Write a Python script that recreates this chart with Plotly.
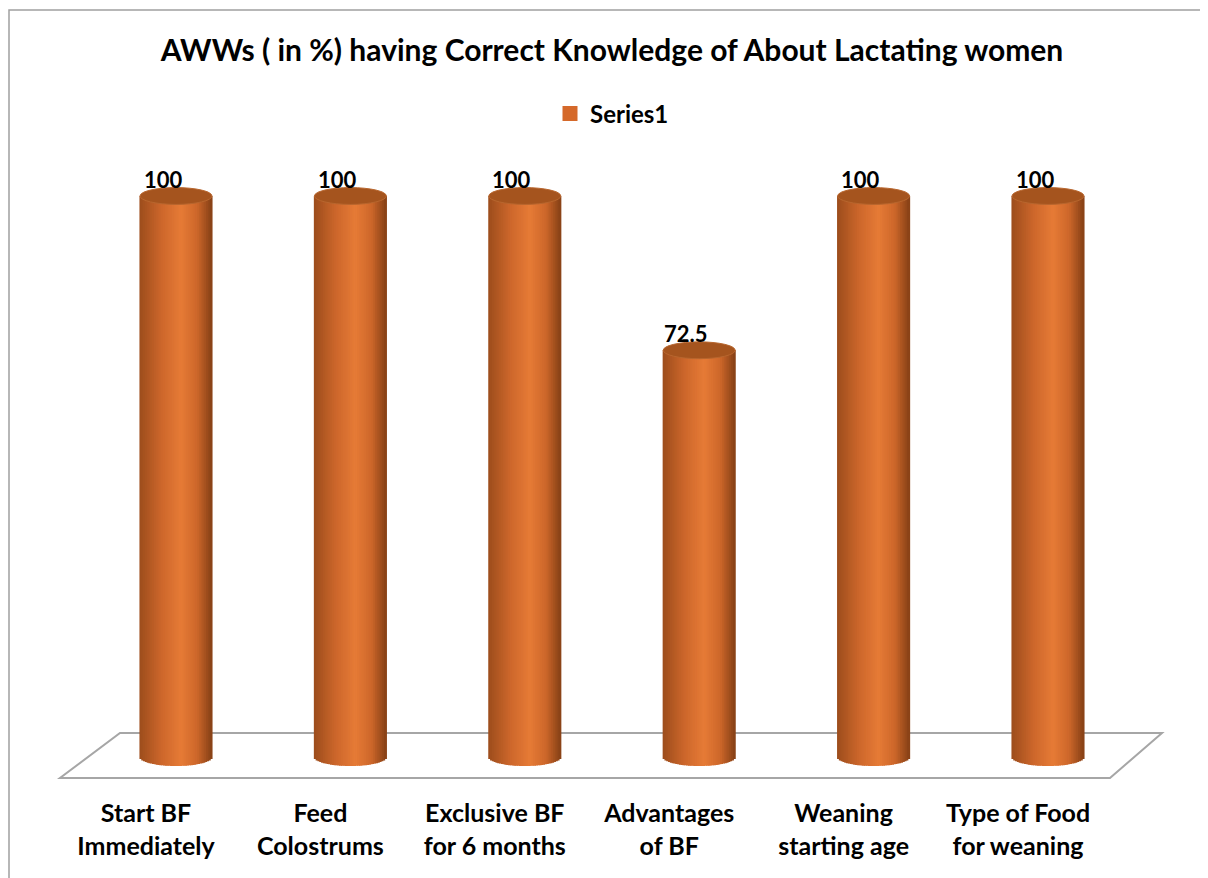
import numpy as np
import plotly.graph_objects as go

# ---- data ----
categories = ["Start BF<br>Immediately", "Feed<br>Colostrums", "Exclusive BF<br>for 6 months",
              "Advantages<br>of BF", "Weaning<br>starting age", "Type of Food<br>for weaning"]
values = [100, 100, 100, 72.5, 100, 100]
labels = ["100", "100", "100", "72.5", "100", "100"]
series_name = "Series1"
title = "AWWs ( in %) having Correct Knowledge of About Lactating women"

FONT = "Lato"
W, H = 1208, 878
OFF = 8  # page body margin
xs = list(range(len(categories)))

# pixel mapping helpers for layout
px_per_x = 174.4
x0_px = 176 - OFF
x_range = [-x0_px / px_per_x, (W - x0_px) / px_per_x]
px_per_y = 5.61
y_zero_px = 757 - OFF
plot_bottom_px = 790 - OFF
y_range = [(y_zero_px - plot_bottom_px) / px_per_y, y_zero_px / px_per_y]

bar_w = 0.413
label_shift = 30 / px_per_x   # perspective shift of category labels
N = 40
hb = 1.6   # bottom ellipse half height (y units)
ht = 1.5   # lid half height

# colour profile across the cylinder
prof_u = [-1.0, -0.4, 0.15, 0.6, 1.0]
prof_c = [(156, 77, 28), (204, 102, 43), (230, 123, 54), (205, 103, 42), (135, 65, 22)]

def col_at(u):
    c = [np.interp(u, prof_u, [p[i] for p in prof_c]) for i in range(3)]
    return "rgb(%d,%d,%d)" % tuple(int(round(v)) for v in c)

fig = go.Figure()
sw = bar_w / N
for k in range(N):
    u = -1 + (k + 0.5) * 2 / N
    base_k = -hb * np.sqrt(max(0.0, 1 - u * u))
    fig.add_trace(go.Bar(
        x=xs, y=[v - base_k for v in values], base=[base_k] * len(values),
        width=sw * 1.6, offset=-bar_w / 2 + k * sw - sw * 0.3,
        marker=dict(color=col_at(u), line=dict(width=0)),
        showlegend=False, hoverinfo="skip"))

# legend entry
fig.add_trace(go.Scatter(x=[None], y=[None], name=series_name, mode="markers",
                         marker=dict(color="#d5692a", symbol="square", size=15),
                         showlegend=True))

shapes = []
# floor
shapes.append(dict(type="path", xref="x", yref="y", layer="below",
                   path="M %f,%f L %f,%f L %f,%f L %f,%f Z" % (
                       (120 - 176) / px_per_x, (757 - 733) / px_per_y,
                       (1162 - 176) / px_per_x, (757 - 733) / px_per_y,
                       (1110 - 176) / px_per_x, (757 - 778) / px_per_y,
                       (60 - 176) / px_per_x, (757 - 778) / px_per_y),
                   line=dict(color="#a6a6a6", width=2)))
# lids
for x, v in zip(xs, values):
    shapes.append(dict(type="circle", xref="x", yref="y", layer="above",
                       x0=x - bar_w / 2, x1=x + bar_w / 2, y0=v - ht, y1=v + ht,
                       fillcolor="#a5541e", line=dict(color="#b8662e", width=1)))
# outer border
shapes.append(dict(type="rect", xref="paper", yref="paper",
                   x0=1 / W, x1=1.02, y0=-0.02, y1=1 - 2 / H,
                   line=dict(color="#a0a0a0", width=1.5)))

annotations = []
for x, v, t in zip(xs, values, labels):
    annotations.append(dict(x=x, y=v, xref="x", yref="y", text="<b>%s</b>" % t,
                            showarrow=False, xshift=-13, yshift=17,
                            font=dict(family=FONT, size=22, color="black")))

fig.update_layout(
    width=W, height=H, autosize=False,
    margin=dict(l=0, r=0, t=0, b=0),
    paper_bgcolor="white", plot_bgcolor="rgba(0,0,0,0)",
    barmode="overlay",
    title=dict(text="<b>%s</b>" % title, x=(612 - OFF) / W, xanchor="center",
               y=1 - (50 - OFF) / H, yanchor="middle", yref="container",
               font=dict(family=FONT, size=30, color="black")),
    legend=dict(orientation="h", x=(612 - OFF) / W, xanchor="center",
                y=1 - (114 - OFF) / H, yanchor="middle",
                font=dict(family=FONT, size=24, color="black", weight="bold"),
                bgcolor="rgba(0,0,0,0)"),
    xaxis=dict(range=x_range, tickvals=[x - label_shift for x in xs], ticktext=categories,
               showgrid=False, zeroline=False, showline=False, ticks="outside", ticklen=1,
               tickcolor="rgba(0,0,0,0)",
               tickfont=dict(family=FONT, size=25, color="black", weight="bold")),
    yaxis=dict(range=y_range, domain=[(H - plot_bottom_px) / H, 1], visible=False,
               showgrid=False, zeroline=False),
    shapes=shapes, annotations=annotations,
)

fig.write_html("out.html")
